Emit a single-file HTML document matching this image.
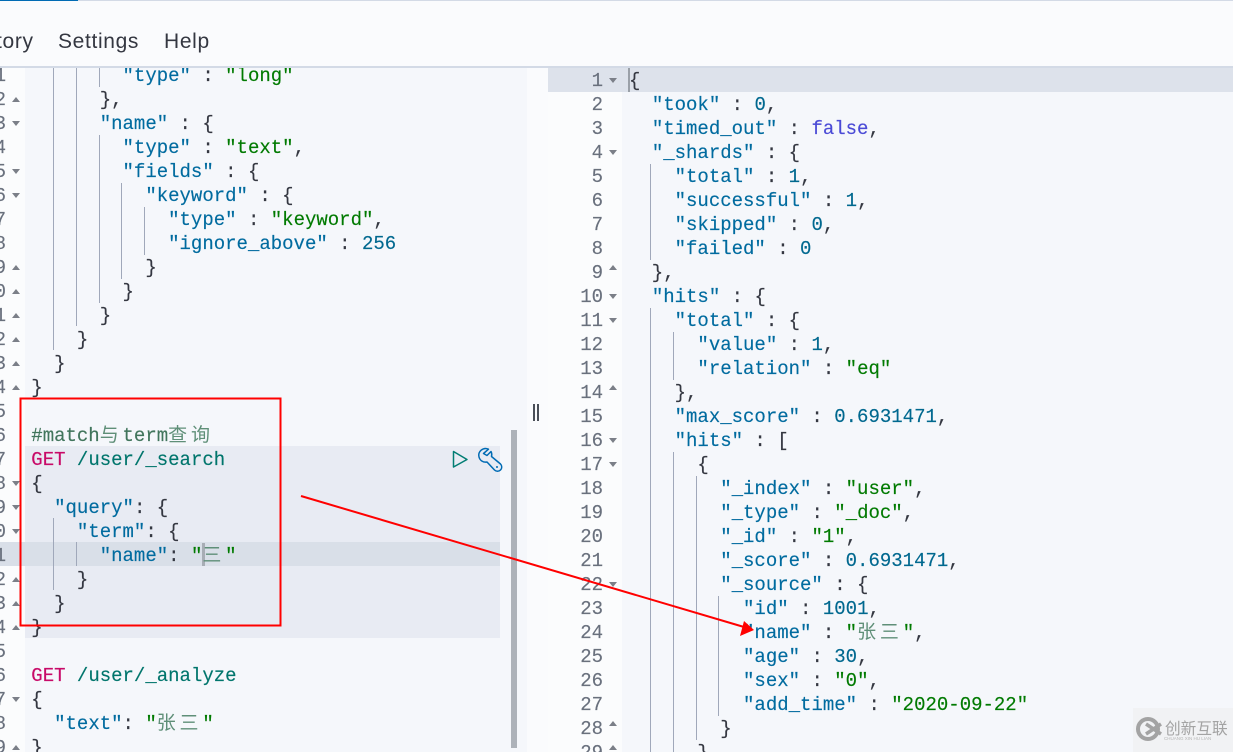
<!DOCTYPE html>
<html><head><meta charset="utf-8">
<style>
html,body{margin:0;padding:0;width:1233px;height:752px;overflow:hidden;background:#f5f7fb}
.a{position:absolute}
pre{margin:0;font:19px/24px "Liberation Mono","Noto Sans CJK SC",monospace;white-space:pre;color:#343741;-webkit-text-stroke:.15px currentColor}
.k{color:#006b9f}.s{color:#017a01}.n{color:#00688f}.m{color:#c80a68}.p{color:#00756c}.c{color:#41755c}.b{color:#4a4ad6}
.z{color:#5f8f78;letter-spacing:3.8px;-webkit-text-stroke:0}
.ln{color:#69707d;text-align:right}
.nav{font:21px/26px "Liberation Sans",sans-serif;color:#343741;top:29px;letter-spacing:.65px}
</style></head><body>
<div class="a" style="left:0;top:0;width:1233px;height:66px;background:#fafbfd"></div>
<div class="a" style="left:0;top:0;width:1233px;height:1px;background:#d3dae6"></div>
<div class="a" style="left:0;top:0;width:78px;height:1px;background:#006bb4"></div>
<div class="a" style="left:0;top:66px;width:1233px;height:2px;background:#d3dae6"></div>
<div class="a nav" style="left:-4px">tory</div>
<div class="a nav" style="left:58px">Settings</div>
<div class="a nav" style="left:164px">Help</div>

<div class="a" style="left:0;top:68px;width:25px;height:684px;background:#fbfcfd"></div>
<div class="a" style="left:25px;top:68px;width:502px;height:684px;background:#f5f7fb"></div>
<div class="a" style="left:527px;top:68px;width:21px;height:684px;background:#fafbfd"></div>
<div class="a" style="left:548px;top:68px;width:74px;height:684px;background:#fbfcfd"></div>
<div class="a" style="left:622px;top:68px;width:611px;height:684px;background:#f5f7fb"></div>
<div class="a" style="left:25px;top:446px;width:475px;height:192px;background:#e8ebf3"></div>
<div class="a" style="left:0;top:542px;width:25px;height:24px;background:#d9dfe8"></div>
<div class="a" style="left:25px;top:542px;width:475px;height:24px;background:#d9dfe8"></div>
<div class="a" style="left:548px;top:68px;width:685px;height:24px;background:#dde2eb"></div>
<div class="a" style="left:511px;top:430px;width:6px;height:318px;background:#adb2b9"></div>
<div class="a" style="left:533px;top:404px;width:1.500px;height:17px;background:#4a4f58"></div>
<div class="a" style="left:537px;top:404px;width:1.500px;height:17px;background:#4a4f58"></div>
<div class="a" style="left:628px;top:68px;width:2px;height:24px;background:#9aa0a8"></div>
<div class="a" style="left:202px;top:543px;width:3px;height:23px;background:#a8adb5"></div>

<svg class="a" style="left:0;top:0" width="1233" height="752">
<g stroke="#a0a8ba" stroke-width="1" fill="none">
<path d="M53.500 68V350M76.500 68V326M99.500 68V87M99.500 135V303M121.500 183V279M144.500 207V255M53.500 518V590M76.500 542V566"/>
<path d="M650.500 164V260M650.500 308V752M673.500 332V380M673.500 452V752M696.500 476V740M718.500 596V716"/>
</g>
<path fill="#7b7f88" d="M12 102h8l-4-5zM12 121h8l-4 5zM12 169h8l-4 5zM12 193h8l-4 5zM12 270h8l-4-5zM12 294h8l-4-5zM12 318h8l-4-5zM12 342h8l-4-5zM12 366h8l-4-5zM12 390h8l-4-5zM12 481h8l-4 5zM12 505h8l-4 5zM12 529h8l-4 5zM12 582h8l-4-5zM12 606h8l-4-5zM12 630h8l-4-5zM12 697h8l-4 5zM12 750h8l-4-5z"/>
<path fill="#7b7f88" d="M609 78h8l-4 5zM609 150h8l-4 5zM609 270h8l-4-5zM609 294h8l-4 5zM609 318h8l-4 5zM609 390h8l-4-5zM609 438h8l-4 5zM609 462h8l-4 5zM609 582h8l-4 5zM609 726h8l-4-5zM609 750h8l-4-5z"/>
<path d="M453.500 451.500L467 459.500 453.500 467z" fill="none" stroke="#017d73" stroke-width="1.500" stroke-linejoin="round"/>
<path d="M488.500 449.200A6.800 6.800 0 0 0 479 457A6.800 6.800 0 0 0 487 462L494.500 470A4 4 0 0 0 500.500 464L491.500 456.500A6.800 6.800 0 0 0 491 451.500L487 455.500L483.500 453.500Z" fill="none" stroke="#006bb4" stroke-width="1.500" stroke-linejoin="round"/>
<circle cx="497" cy="467" r="1" fill="#006bb4"/>
</svg>

<div class="a" style="left:-6px;top:68px;width:12px;height:684px;overflow:hidden"><pre class="ln" style="margin-top:-4px">1
2
3
4
5
6
7
8
9
0
1
2
3
4
5
6
7
8
9
0
1
2
3
4
5
6
7
8
9</pre></div>

<div class="a" style="left:31.300px;top:68px;width:470px;height:684px;overflow:hidden"><pre style="margin-top:-4px">        <span class="k">"type"</span> : <span class="s">"long"</span>
      },
      <span class="k">"name"</span> : {
        <span class="k">"type"</span> : <span class="s">"text"</span>,
        <span class="k">"fields"</span> : {
          <span class="k">"keyword"</span> : {
            <span class="k">"type"</span> : <span class="s">"keyword"</span>,
            <span class="k">"ignore_above"</span> : <span class="n">256</span>
          }
        }
      }
    }
  }
}

<span class="c">#match</span><span class="z">与</span><span class="c">term</span><span class="z">查询</span>
<span class="m">GET</span> <span class="p">/user/_search</span>
{
  <span class="k">"query"</span>: {
    <span class="k">"term"</span>: {
      <span class="k">"name"</span>: <span class="s">"<span class="z">三</span>"</span>
    }
  }
}

<span class="m">GET</span> <span class="p">/user/_analyze</span>
{
  <span class="k">"text"</span>: <span class="s">"<span class="z">张三</span>"</span>
}</pre></div>

<div class="a" style="left:548px;top:68px;width:55px;height:684px;overflow:hidden"><pre class="ln" style="margin-top:1px">1
2
3
4
5
6
7
8
9
10
11
12
13
14
15
16
17
18
19
20
21
22
23
24
25
26
27
28
29</pre></div>

<div class="a" style="left:629px;top:68px;width:604px;height:684px;overflow:hidden"><pre style="margin-top:1px">{
  <span class="k">"took"</span> : <span class="n">0</span>,
  <span class="k">"timed_out"</span> : <span class="b">false</span>,
  <span class="k">"_shards"</span> : {
    <span class="k">"total"</span> : <span class="n">1</span>,
    <span class="k">"successful"</span> : <span class="n">1</span>,
    <span class="k">"skipped"</span> : <span class="n">0</span>,
    <span class="k">"failed"</span> : <span class="n">0</span>
  },
  <span class="k">"hits"</span> : {
    <span class="k">"total"</span> : {
      <span class="k">"value"</span> : <span class="n">1</span>,
      <span class="k">"relation"</span> : <span class="s">"eq"</span>
    },
    <span class="k">"max_score"</span> : <span class="n">0.6931471</span>,
    <span class="k">"hits"</span> : [
      {
        <span class="k">"_index"</span> : <span class="s">"user"</span>,
        <span class="k">"_type"</span> : <span class="s">"_doc"</span>,
        <span class="k">"_id"</span> : <span class="s">"1"</span>,
        <span class="k">"_score"</span> : <span class="n">0.6931471</span>,
        <span class="k">"_source"</span> : {
          <span class="k">"id"</span> : <span class="n">1001</span>,
          <span class="k">"name"</span> : <span class="s">"<span class="z">张三</span>"</span>,
          <span class="k">"age"</span> : <span class="n">30</span>,
          <span class="k">"sex"</span> : <span class="s">"0"</span>,
          <span class="k">"add_time"</span> : <span class="s">"2020-09-22"</span>
        }
      },</pre></div>

<svg class="a" style="left:0;top:0" width="1233" height="752">
<rect x="20.500" y="398.500" width="260" height="227" fill="none" stroke="#f00" stroke-width="2"/>
<path d="M301 496L744 627" stroke="#f00" stroke-width="2" fill="none"/>
<path d="M754 630L744 621 740 636z" fill="#f00"/>
</svg>

<div class="a" style="left:1133px;top:708px;width:100px;height:44px;background:#f1f2f4"></div>
<svg class="a" style="left:1133px;top:708px" width="100" height="44">
<circle cx="15" cy="21" r="10" fill="none" stroke="#a3a3a3" stroke-width="4"/>
<path d="M13 16L28 26M13 26L28 16" stroke="#a3a3a3" stroke-width="3.500"/>
<text x="32" y="26" font-family="'Noto Sans CJK SC',sans-serif" font-size="15.700" fill="#a3a3a3">创新互联</text>
<text x="31" y="32" font-family="'Liberation Sans',sans-serif" font-size="4.500" fill="#b5b5b5">CHUANG XIN HU LIAN</text>
</svg>
</body></html>
